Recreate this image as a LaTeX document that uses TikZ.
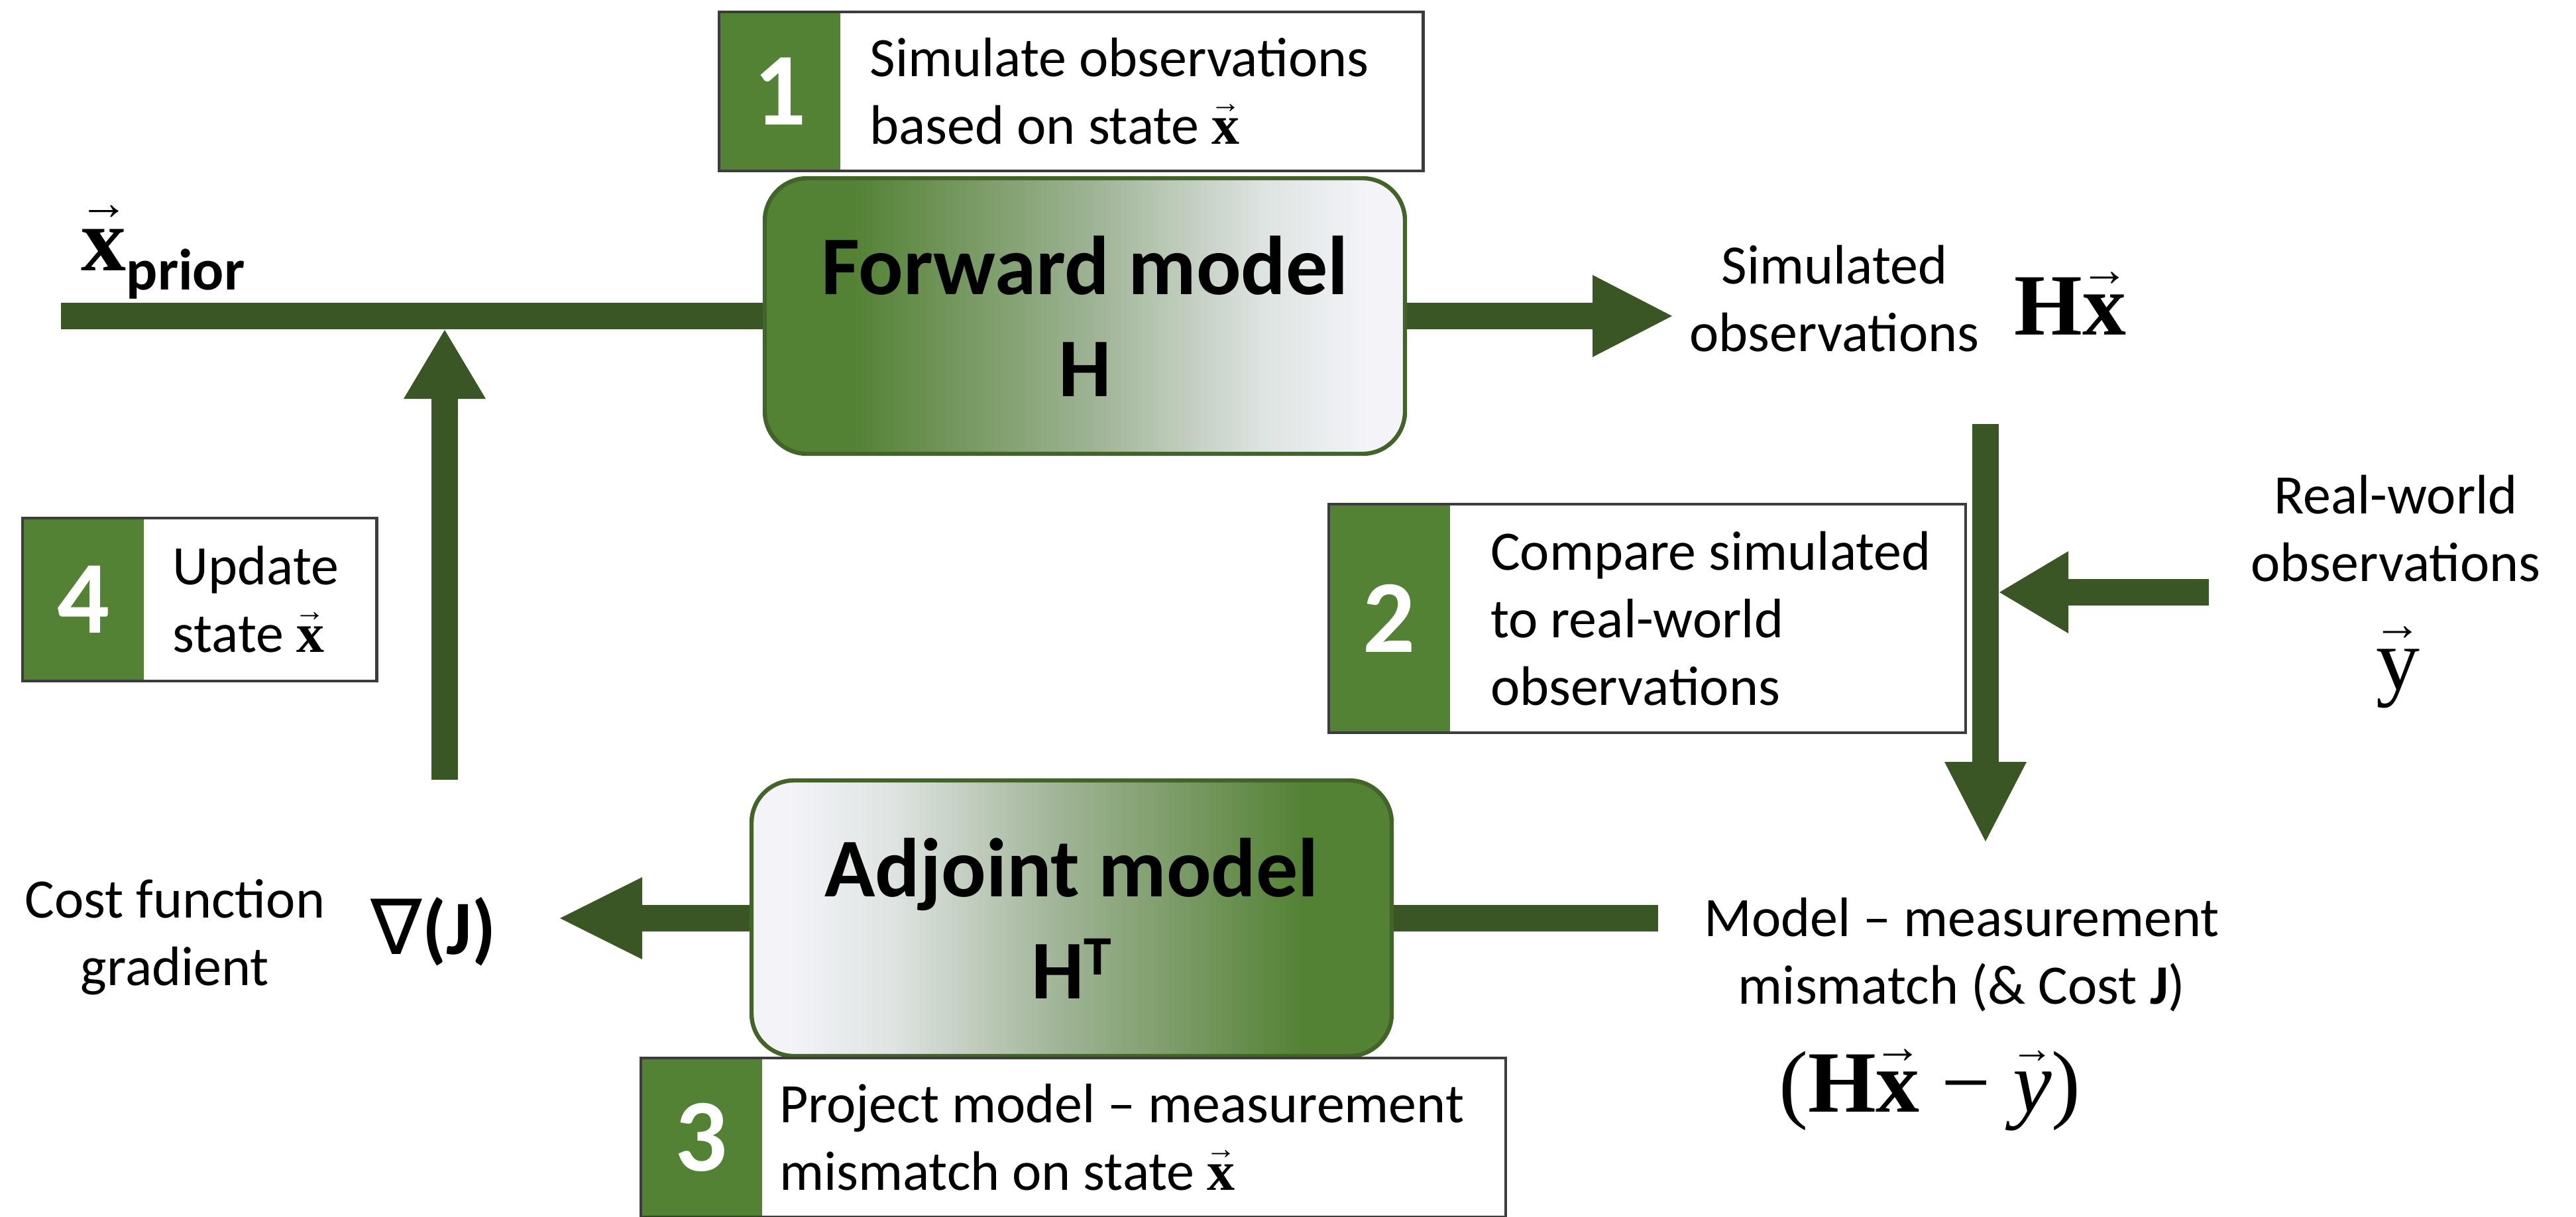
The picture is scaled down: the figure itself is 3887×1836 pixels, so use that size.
\documentclass[tikz,border=0pt]{standalone}
\usepackage{graphicx}
\usepackage{fontspec}
\setmainfont{Carlito}
\newfontfamily\tnr{Liberation Serif}
\newfontfamily\djv{DejaVu Sans}
\usetikzlibrary{arrows.meta,backgrounds}

\definecolor{stepgreen}{RGB}{84,130,53}
\definecolor{flowgreen}{RGB}{58,86,36}
\definecolor{rimgreen}{RGB}{66,100,40}
\definecolor{fadeA}{RGB}{160,180,150}
\definecolor{fadeB}{RGB}{222,228,226}
\definecolor{fadeC}{RGB}{243,243,248}
\definecolor{framegray}{RGB}{60,60,60}

% green-to-white fades for the two model blocks
\pgfdeclarehorizontalshading{fwdfade}{100bp}{color(0bp)=(stepgreen); color(25bp)=(stepgreen); color(32bp)=(stepgreen); color(51bp)=(fadeA); color(64bp)=(fadeB); color(72bp)=(fadeC); color(100bp)=(fadeC)}
\pgfdeclarehorizontalshading{adjfade}{100bp}{color(0bp)=(fadeC); color(28bp)=(fadeC); color(36bp)=(fadeB); color(49bp)=(fadeA); color(68bp)=(stepgreen); color(100bp)=(stepgreen)}

\newcommand\setfs[2]{\fontsize{#1}{#2}\selectfont}
% a letter with a small right arrow set above it
\newcommand\arrowon[1]{{\setbox0=\hbox{#1}\ooalign{\copy0\cr\hidewidth\raisebox{\dimexpr\ht0+0.1em\relax}{\resizebox{1.1\wd0}{!}{\tnr →}}\hidewidth\cr}}}
\newcommand\vecbf[1]{\arrowon{\tnr\bfseries #1}}
\newcommand\vecrm[1]{\arrowon{\tnr #1}}
\newcommand\vecit[1]{\arrowon{\tnr\itshape #1}}

\tikzset{
  flow/.style={draw=flowgreen, line width=10pt},
  flowarrow/.style={flow, -{Triangle[length=#1, width=31pt, line width=0pt]}},
  model/.style={draw=rimgreen, line width=1.6pt, rounded corners=16pt, shade,
    minimum width=241.5pt, minimum height=104pt, inner sep=0pt, align=center,
    font=\setfs{31.5}{38.5}\bfseries},
  numcell/.style={fill=stepgreen, minimum width=45.5pt, inner sep=0pt,
    text=white, font=\setfs{39}{39}\bfseries},
  cell/.style={fill=white, inner sep=0pt},
  stepframe/.style={draw=framegray, line width=1.1pt},
  steptext/.style={align=left, inner sep=0pt, font=\setfs{21}{25.5}},
  plaintext/.style={align=center, inner sep=0pt, font=\setfs{21}{25.5}},
  mathlbl/.style={inner sep=0pt, font=\setfs{33}{33}},
}

\begin{document}
\begin{tikzpicture}[x=0.25pt, y=-0.25pt]
\useasboundingbox (0,0) rectangle (3887,1836);
\clip (0,0) rectangle (3887,1836);

% model blocks
\node[model, shading=fwdfade] (fwd) at (1637,477) {Forward model\\H};
\node[model, shading=adjfade] (adj) at (1617,1386) {Adjoint model\\H\raisebox{9pt}{\setfs{21}{21}T}};

% free ends of the flow lines
\coordinate (xstart) at (92,477);
\coordinate (simtip) at (2523,477);
\coordinate (vtop) at (2996,640);
\coordinate (vtip) at (2996,1270);
\coordinate (rstart) at (3333,894);
\coordinate (rtip) at (3017,894);
\coordinate (mmend) at (2502,1386);
\coordinate (gradtip) at (845,1386);
\coordinate (upbase) at (671,1177);
\coordinate (uptip) at (671,498);

% flow lines and arrows, kept behind the blocks
\begin{pgfonlayer}{background}
\draw[flow] (xstart) -- (fwd.west);
\draw[flowarrow=30pt] (fwd.east) -- (simtip);
\draw[flowarrow=30pt] (vtop) -- (vtip);
\draw[flowarrow=26pt] (rstart) -- (rtip);
\draw[flow] (mmend) -- (adj.east);
\draw[flowarrow=31pt] (adj.west) -- (gradtip);
\draw[flowarrow=26pt] (upbase) -- (uptip);
\end{pgfonlayer}

% step 1
\node[numcell, minimum height=59.5pt] (n1) at (1177,138) {1};
\node[cell, minimum width=219.25pt, minimum height=59.5pt, anchor=west] (c1) at (n1.east) {};
\draw[stepframe] (n1.north west) rectangle (c1.south east);
\node[steptext, anchor=west] (t1) at ([xshift=10.75pt]c1.west) {Simulate observations\\based on state \vecbf{x}};

% step 2
\node[numcell, minimum height=85.75pt] (n2) at (2096.5,933.5) {2};
\node[cell, minimum width=194pt, minimum height=85.75pt, anchor=west] (c2) at (n2.east) {};
\draw[stepframe] (n2.north west) rectangle (c2.south east);
\node[steptext, anchor=west] (t2) at ([xshift=15pt]c2.west) {Compare simulated\\to real-world\\observations};

% step 3
\node[numcell, minimum height=59.5pt] (n3) at (1058.5,1717) {3};
\node[cell, minimum width=280pt, minimum height=59.5pt, anchor=west] (c3) at (n3.east) {};
\draw[stepframe] (n3.north west) rectangle (c3.south east);
\node[steptext, anchor=west] (t3) at ([xshift=6.25pt]c3.west) {Project model – measurement\\mismatch on state \vecbf{x}};

% step 4
\node[numcell, minimum height=61pt] (n4) at (126,905) {4};
\node[cell, minimum width=87.25pt, minimum height=61pt, anchor=west] (c4) at (n4.east) {};
\draw[stepframe] (n4.north west) rectangle (c4.south east);
\node[steptext, anchor=west] (t4) at ([xshift=10.5pt]c4.west) {Update\\state \vecbf{x}};

% quantities and labels
\node[inner sep=0pt, anchor=base west, font=\setfs{34}{34}] (xprior) at (122,408)
  {\vecbf{x}\raisebox{-7.25pt}{\setfs{22}{22}\bfseries prior}};
\node[plaintext] (simobs) at (2768,451) {Simulated\\observations};
\node[mathlbl, anchor=base] (hx) at (3124,505) {{\tnr\bfseries H}\vecbf{x}};
\node[plaintext] (realobs) at (3615,798) {Real-world\\observations};
\node[mathlbl, anchor=base] (yv) at (3618,1040) {\vecrm{y}};
\node[plaintext] (mismatch) at (2960,1441) {Model – measurement\\mismatch (\& Cost \textbf{J})};
\node[mathlbl, anchor=base] (resid) at (2912,1678) {\tnr(\textbf{H}\vecbf{x} − \vecit{y})};
\node[plaintext] (costlbl) at (264,1415) {Cost function\\gradient};
\node[inner sep=0pt, anchor=base, font=\setfs{29}{29}] (nabla) at (654,1440) {{\djv ∇}\textbf{(J)}};
\end{tikzpicture}
\end{document}
